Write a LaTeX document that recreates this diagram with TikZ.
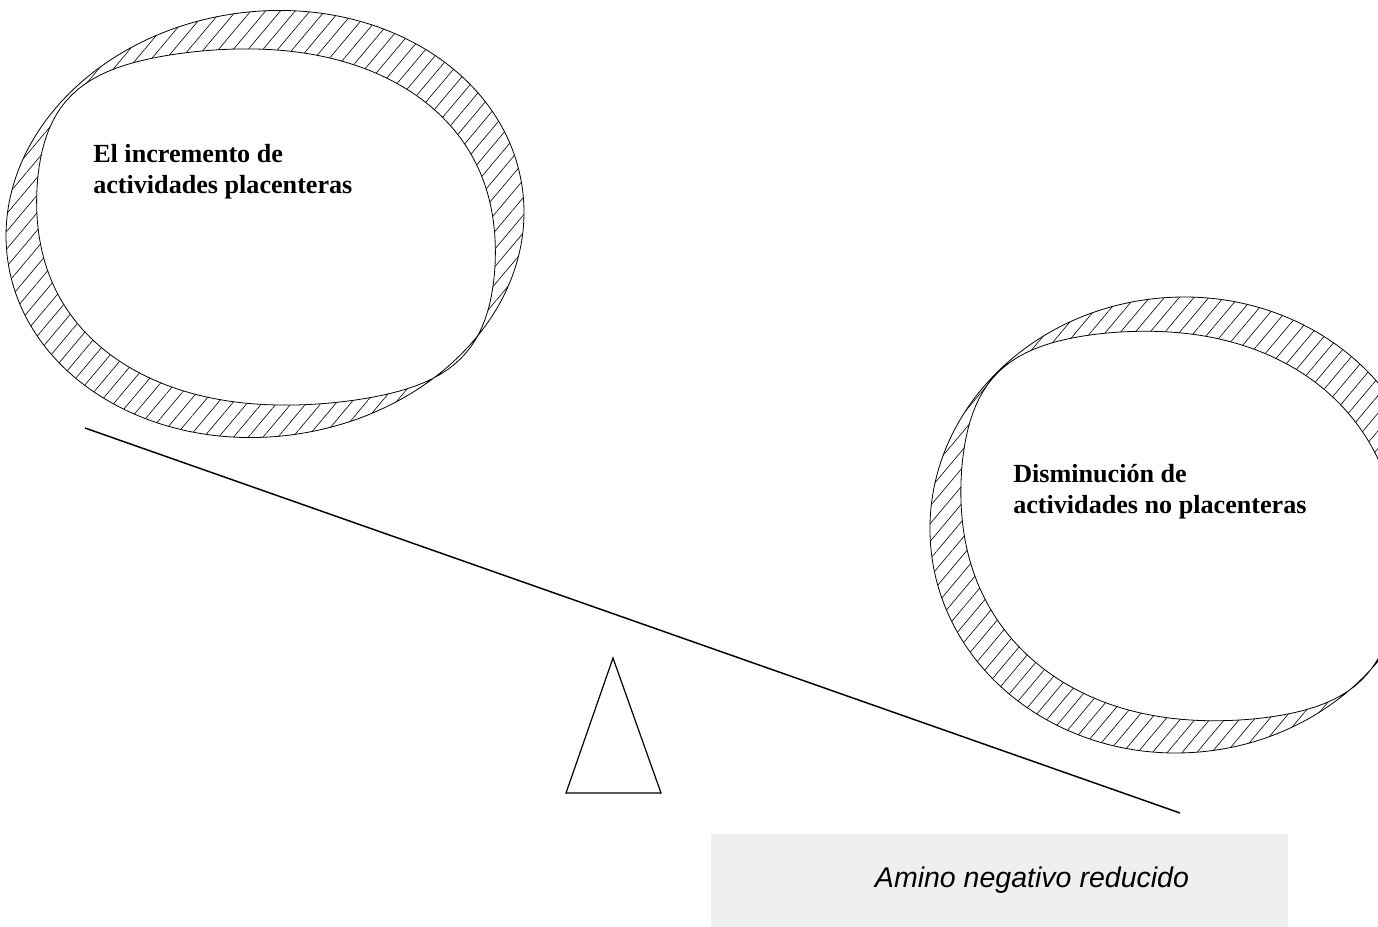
\documentclass[tikz,border=0pt]{standalone}
\usepackage{fontspec}
\setmainfont{Liberation Serif}
\setsansfont{Liberation Sans}
\usetikzlibrary{patterns.meta}
\definecolor{boxgray}{RGB}{239,239,239}
\pgfmathdeclarefunction{bandw}{2}{\pgfmathparse{#2*1.3*sin(#1)^2/(sin(#1)^2+0.3)}}

\begin{document}
\begin{tikzpicture}
  [x=0.75pt,y=-0.75pt,
   ringline/.style={draw=black,line width=0.6pt,even odd rule,
     pattern={Lines[angle=50,distance=8.5pt,line width=0.45pt]}},
   ringtext/.style={anchor=north west,inner sep=0pt,align=left,
     font=\fontsize{19.6}{23}\selectfont\bfseries},
   beam/.style={line width=1.1pt},
   fulcrum/.style={line width=0.9pt,line join=miter}]
  \useasboundingbox (0,0) rectangle (1378,927);
  \clip (0,0) rectangle (1378,927);

  \path[ringline] (265,224) ellipse [x radius=259.8, y radius=212.5, rotate=8]
    plot[domain=0:360,samples=181,variable=\t]
    ({266+(259.8-bandw(\t-48,42))*cos(\t)*cos(8)+(212.5-bandw(\t-48,42))*sin(\t)*sin(8)},
     {227-(259.8-bandw(\t-48,42))*cos(\t)*sin(8)+(212.5-bandw(\t-48,42))*sin(\t)*cos(8)}) -- cycle;
  \node[ringtext] (incr) at (93,144) {El incremento de\\actividades placenteras};

  \path[ringline] (1180,525) ellipse [x radius=250.2, y radius=227.8, rotate=5]
    plot[domain=0:360,samples=181,variable=\t]
    ({1180+(250.2-bandw(\t-48,42))*cos(\t)*cos(5)+(227.8-bandw(\t-48,42))*sin(\t)*sin(5)},
     {526-(250.2-bandw(\t-48,42))*cos(\t)*sin(5)+(227.8-bandw(\t-48,42))*sin(\t)*cos(5)}) -- cycle;
  \node[ringtext] (dism) at (1013,464) {Disminución de\\actividades no placenteras};

  \coordinate (beamL) at (85,428);
  \coordinate (beamR) at (1180,813);
  \draw[beam] (beamL) -- (beamR);

  \coordinate (apex) at (613,658);
  \coordinate (baseL) at (566,793);
  \coordinate (baseR) at (661,793);
  \draw[fulcrum] (apex) -- (baseL) -- (baseR) -- cycle;

  \fill[boxgray] (711,834) rectangle (1288,927);
  \node[font=\sffamily\itshape\fontsize{21.4}{25}\selectfont,inner sep=0pt] (amino) at (1032,880) {Amino negativo reducido};
\end{tikzpicture}
\end{document}
